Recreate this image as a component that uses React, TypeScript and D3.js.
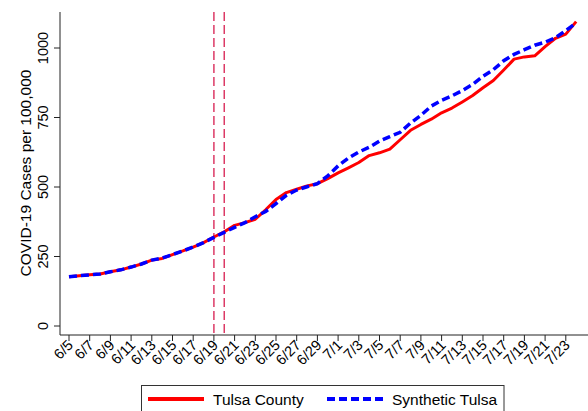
import React, { useEffect, useRef } from 'react';
import * as d3 from 'd3';

const dates = [
  '6/5', '6/6', '6/7', '6/8', '6/9', '6/10', '6/11', '6/12', '6/13', '6/14',
  '6/15', '6/16', '6/17', '6/18', '6/19', '6/20', '6/21', '6/22', '6/23', '6/24',
  '6/25', '6/26', '6/27', '6/28', '6/29', '6/30', '7/1', '7/2', '7/3', '7/4',
  '7/5', '7/6', '7/7', '7/8', '7/9', '7/10', '7/11', '7/12', '7/13', '7/14',
  '7/15', '7/16', '7/17', '7/18', '7/19', '7/20', '7/21', '7/22', '7/23', '7/24',
];

const tulsaCounty = [
  177, 181, 184, 187, 195, 202, 212, 223, 237, 243,
  257, 270, 284, 300, 320, 339, 362, 372, 384, 418,
  455, 480, 492, 504, 512, 530, 551, 569, 588, 613,
  623, 636, 670, 704, 725, 744, 767, 784, 806, 829,
  857, 883, 921, 960, 968, 972, 1005, 1035, 1050, 1095,
];

const syntheticTulsa = [
  177, 181, 184, 187, 195, 202, 212, 223, 237, 244,
  257, 270, 284, 300, 319, 337, 355, 372, 393, 412,
  440, 470, 489, 501, 512, 540, 576, 604, 626, 643,
  665, 681, 697, 730, 758, 791, 812, 828, 847, 869,
  898, 922, 954, 977, 994, 1010, 1021, 1037, 1063, 1090,
];

const xTickLabels = [
  '6/5', '6/7', '6/9', '6/11', '6/13', '6/15', '6/17', '6/19', '6/21', '6/23',
  '6/25', '6/27', '6/29', '7/1', '7/3', '7/5', '7/7', '7/9', '7/11', '7/13',
  '7/15', '7/17', '7/19', '7/21', '7/23',
];

const yTicks = [0, 250, 500, 750, 1000];
const eventDates = ['6/19', '6/20'];

const App: React.FC = () => {
  const svgRef = useRef<SVGSVGElement>(null);

  useEffect(() => {
    if (!svgRef.current) return;
    const svg = d3.select(svgRef.current);
    svg.selectAll('*').remove();

    const width = 588;
    const height = 411;
    const left = 60;
    const top = 12;
    const bottom = 335;
    const font = 'Arial, "Liberation Sans", sans-serif';

    svg.attr('width', width).attr('height', height);

    const x = d3.scalePoint<string>().domain(dates).range([69, 576.15]);
    const y = d3.scaleLinear().domain([0, 1000]).range([326, 48]);

    // event lines
    svg
      .selectAll('line.event')
      .data(eventDates)
      .enter()
      .append('line')
      .attr('class', 'event')
      .attr('x1', d => x(d) as number)
      .attr('x2', d => x(d) as number)
      .attr('y1', top)
      .attr('y2', bottom)
      .attr('stroke', '#dc3a66')
      .attr('stroke-width', 1.5)
      .attr('stroke-dasharray', '9,4');

    const line = d3
      .line<number>()
      .x((_, i) => x(dates[i]) as number)
      .y(d => y(d));

    svg
      .append('path')
      .datum(tulsaCounty)
      .attr('d', line)
      .attr('fill', 'none')
      .attr('stroke', '#ff0000')
      .attr('stroke-width', 3)
      .attr('stroke-linejoin', 'round');

    svg
      .append('path')
      .datum(syntheticTulsa)
      .attr('d', line)
      .attr('fill', 'none')
      .attr('stroke', '#0000ff')
      .attr('stroke-width', 3.5)
      .attr('stroke-dasharray', '8,4');

    // axes
    svg
      .append('line')
      .attr('x1', left)
      .attr('x2', left)
      .attr('y1', top)
      .attr('y2', bottom)
      .attr('stroke', '#222')
      .attr('stroke-width', 1);
    svg
      .append('line')
      .attr('x1', left)
      .attr('x2', width)
      .attr('y1', bottom)
      .attr('y2', bottom)
      .attr('stroke', '#222')
      .attr('stroke-width', 1);

    // y ticks
    const yt = svg.append('g');
    yt.selectAll('line')
      .data(yTicks)
      .enter()
      .append('line')
      .attr('x1', left - 6)
      .attr('x2', left)
      .attr('y1', d => y(d))
      .attr('y2', d => y(d))
      .attr('stroke', '#222');
    yt.selectAll('text')
      .data(yTicks)
      .enter()
      .append('text')
      .attr('transform', d => `translate(48,${y(d)}) rotate(-90)`)
      .attr('text-anchor', 'middle')
      .style('font-family', font)
      .style('font-size', '14.5px')
      .style('fill', '#000')
      .text(d => String(d));

    svg
      .append('text')
      .attr('transform', 'translate(31,173) rotate(-90)')
      .attr('text-anchor', 'middle')
      .style('font-family', font)
      .style('font-size', '15.5px')
      .style('fill', '#000')
      .text('COVID-19 Cases per 100,000');

    // x ticks
    const xt = svg.append('g');
    xt.selectAll('line')
      .data(xTickLabels)
      .enter()
      .append('line')
      .attr('x1', d => x(d) as number)
      .attr('x2', d => x(d) as number)
      .attr('y1', bottom)
      .attr('y2', bottom + 6)
      .attr('stroke', '#222');
    xt.selectAll('text')
      .data(xTickLabels)
      .enter()
      .append('text')
      .attr('transform', d => `translate(${(x(d) as number) + 5},${bottom + 11}) rotate(-45)`)
      .attr('text-anchor', 'end')
      .style('font-family', font)
      .style('font-size', '14.5px')
      .style('fill', '#000')
      .text(d => d);

    // legend
    const legend = svg.append('g');
    legend
      .append('rect')
      .attr('x', 141.5)
      .attr('y', 385.5)
      .attr('width', 362.5)
      .attr('height', 40)
      .attr('fill', '#fff')
      .attr('stroke', '#333')
      .attr('stroke-width', 1);
    legend
      .append('line')
      .attr('x1', 148)
      .attr('x2', 204)
      .attr('y1', 399)
      .attr('y2', 399)
      .attr('stroke', '#ff0000')
      .attr('stroke-width', 4);
    legend
      .append('text')
      .attr('x', 213)
      .attr('y', 405)
      .style('font-family', font)
      .style('font-size', '15.5px')
      .style('fill', '#000')
      .text('Tulsa County');
    legend
      .append('line')
      .attr('x1', 327)
      .attr('x2', 383)
      .attr('y1', 399)
      .attr('y2', 399)
      .attr('stroke', '#0000ff')
      .attr('stroke-width', 4)
      .attr('stroke-dasharray', '8,4');
    legend
      .append('text')
      .attr('x', 392)
      .attr('y', 405)
      .style('font-family', font)
      .style('font-size', '15.5px')
      .style('fill', '#000')
      .text('Synthetic Tulsa');
  }, []);

  return (
    <svg
      ref={svgRef}
      style={{ position: 'absolute', left: 0, top: 0, background: '#fff' }}
    />
  );
};

export default App;
